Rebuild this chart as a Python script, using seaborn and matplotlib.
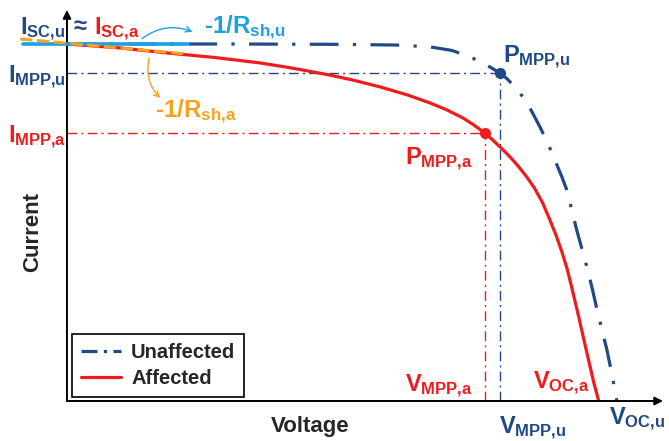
import matplotlib
matplotlib.use('Agg')
import matplotlib.pyplot as plt
from matplotlib.lines import Line2D
import seaborn as sns
import pandas as pd

# -------------------------
# Data (normalised: Voc,u = 1, Isc = 1)
# -------------------------
v_unaffected = [0.0, 0.30, 0.50, 0.60, 0.66, 0.70, 0.733, 0.76, 0.787, 0.80,
                0.815, 0.83, 0.845, 0.86, 0.875, 0.89, 0.90, 0.909, 0.918,
                0.927, 0.937, 0.947, 0.956, 0.964, 0.973, 0.982, 0.991, 1.0]
i_unaffected = [1.0, 1.0, 0.999, 0.997, 0.992, 0.982, 0.964, 0.944, 0.919, 0.903,
                0.879, 0.850, 0.812, 0.768, 0.720, 0.665, 0.628, 0.591, 0.535,
                0.479, 0.423, 0.367, 0.310, 0.255, 0.199, 0.143, 0.075, 0.0]

v_affected = [0.0, 0.096, 0.182, 0.27, 0.351, 0.40, 0.44, 0.478, 0.52, 0.569,
              0.62, 0.66, 0.69, 0.72, 0.74, 0.76, 0.775, 0.79, 0.805, 0.82,
              0.835, 0.85, 0.865, 0.878, 0.89, 0.90, 0.91, 0.92, 0.93, 0.94,
              0.95, 0.958, 0.967]
i_affected = [1.0, 0.989, 0.975, 0.962, 0.947, 0.935, 0.924, 0.913, 0.899, 0.880,
              0.857, 0.835, 0.816, 0.793, 0.773, 0.751, 0.730, 0.708, 0.685, 0.659,
              0.630, 0.597, 0.555, 0.508, 0.462, 0.418, 0.368, 0.305, 0.240, 0.172,
              0.105, 0.052, 0.0]

# maximum power points
mpp_u = (0.787, 0.919)
mpp_a = (0.760, 0.751)

# shunt-resistance tangents near short circuit
tan_u_v = [-0.08, 0.22]
tan_u_i = [1.0, 1.0]
tan_a_v = [-0.085, 0.218]
tan_a_i = [1.014, 0.972]

DARK = '#1F4A87'
RED = '#EE1C1C'
LIGHT = '#1DA1E2'
ORANGE = '#F5A21E'

# -------------------------
# Style
# -------------------------
sns.set_style('white')
plt.rcParams['font.family'] = ['Liberation Sans', 'DejaVu Sans']
plt.rcParams['font.weight'] = 'bold'
plt.rcParams['mathtext.fontset'] = 'custom'
plt.rcParams['mathtext.rm'] = 'Liberation Sans:bold'
plt.rcParams['mathtext.it'] = 'Liberation Sans:bold'
plt.rcParams['mathtext.bf'] = 'Liberation Sans:bold'
plt.rcParams['mathtext.sf'] = 'Liberation Sans:bold'

fig = plt.figure(figsize=(6.69, 4.41), dpi=100)
ax = fig.add_axes([0.1001, 0.0907, 0.891, 0.8866])

df_u = pd.DataFrame({'V': v_unaffected, 'I': i_unaffected})
df_a = pd.DataFrame({'V': v_affected, 'I': i_affected})

# guide lines to the MPPs
guide_ls = (0, (7, 3, 1.5, 3))
for (vm, im), col in [(mpp_u, DARK), (mpp_a, RED)]:
    ax.plot([0, vm], [im, im], color=col, lw=1.0, ls=guide_ls)
    ax.plot([vm, vm], [0, im], color=col, lw=1.0, ls=guide_ls)

sns.lineplot(data=df_u, x='V', y='I', ax=ax, sort=False, estimator=None,
             color=DARK, lw=2.3, linestyle=(0, (9, 4.5, 1, 4.5)), legend=False)
sns.lineplot(data=df_a, x='V', y='I', ax=ax, sort=False, estimator=None,
             color=RED, lw=2.3, legend=False)

# tangents
ax.plot(tan_u_v, tan_u_i, color=LIGHT, lw=2.6, clip_on=False, zorder=4)
ax.plot(tan_a_v, tan_a_i, color=ORANGE, lw=2.2, ls=(0, (4, 1.5)), clip_on=False, zorder=5)

# MPP markers
ax.plot([mpp_u[0]], [mpp_u[1]], 'o', color=DARK, ms=7, zorder=6)
ax.plot([mpp_a[0]], [mpp_a[1]], 'o', color=RED, ms=7, zorder=6)

ax.set_xlim(0, 1.084)
ax.set_ylim(0, 1.0952)
ax.set_xticks([])
ax.set_yticks([])
ax.set_xlabel('')
ax.set_ylabel('')
for s in ax.spines.values():
    s.set_visible(False)

# axis arrows
arrow_kw = dict(arrowstyle='-|>', color='black', lw=1.4, mutation_scale=12,
                shrinkA=0, shrinkB=0)
ax.annotate('', xy=(1.0, 0), xytext=(0, 0), xycoords='axes fraction',
            arrowprops=arrow_kw, annotation_clip=False)
ax.annotate('', xy=(0, 1.0), xytext=(0, 0), xycoords='axes fraction',
            arrowprops=arrow_kw, annotation_clip=False)

# -------------------------
# Labels
# -------------------------
fs = 17
ax.text(-0.085, 1.025, r'$I_{SC{,}u}$', color=DARK, fontsize=fs, va='baseline')
ax.text(0.012, 1.03, '≈', color=DARK, fontsize=fs, fontweight='bold', va='baseline')
ax.text(0.05, 1.025, r'$I_{SC{,}a}$', color=RED, fontsize=fs, va='baseline')
ax.text(0.250, 1.028, r'-1/$R_{sh{,}u}$', color=LIGHT, fontsize=17.5, va='baseline')
ax.text(0.160, 0.793, r'-1/$R_{sh{,}a}$', color=ORANGE, fontsize=17.5, va='baseline')
ax.text(-0.002, 0.891, r'$I_{MPP{,}u}$', color=DARK, fontsize=fs, ha='right', va='baseline')
ax.text(-0.002, 0.725, r'$I_{MPP{,}a}$', color=RED, fontsize=fs, ha='right', va='baseline')
ax.text(0.793, 0.947, r'$P_{MPP{,}u}$', color=DARK, fontsize=fs, va='baseline')
ax.text(0.614, 0.661, r'$P_{MPP{,}a}$', color=RED, fontsize=fs, va='baseline')
ax.text(0.738, 0.027, r'$V_{MPP{,}a}$', color=RED, fontsize=fs, ha='right', va='baseline')
ax.text(0.847, 0.036, r'$V_{OC{,}a}$', color=RED, fontsize=fs, va='baseline')
ax.text(0.785, -0.090, r'$V_{MPP{,}u}$', color=DARK, fontsize=fs, va='baseline')
ax.text(0.985, -0.067, r'$V_{OC{,}u}$', color=DARK, fontsize=fs, va='baseline')

ax.text(0.442, -0.042, 'Voltage', fontsize=16, fontweight='bold', ha='center', va='top')
ax.text(-0.062, 0.473, 'Current', fontsize=16, fontweight='bold', rotation=90,
        ha='center', va='center')

# curved pointer arrows
ax.annotate('', xy=(0.233, 1.031), xytext=(0.133, 1.011),
            arrowprops=dict(arrowstyle='->', color=LIGHT, lw=1.0,
                            connectionstyle='arc3,rad=-0.3'))
ax.annotate('', xy=(0.173, 0.843), xytext=(0.151, 0.969),
            arrowprops=dict(arrowstyle='->', color=ORANGE, lw=1.0,
                            connectionstyle='arc3,rad=0.3'))

handles = [Line2D([], [], color=DARK, lw=2.3, ls=(0, (5, 2, 1, 2))),
           Line2D([], [], color=RED, lw=2.3)]
leg = ax.legend(handles, ['Unaffected', 'Affected'],
                loc='lower left', bbox_to_anchor=(0.008, 0.01), borderaxespad=0,
                frameon=True, fancybox=False, edgecolor='black', framealpha=1,
                prop={'size': 14.5, 'weight': 'bold'}, handlelength=2.0,
                handletextpad=0.5, borderpad=0.45, labelspacing=0.35)
leg.get_frame().set_linewidth(1.2)

fig.savefig('out.png', dpi=100)
